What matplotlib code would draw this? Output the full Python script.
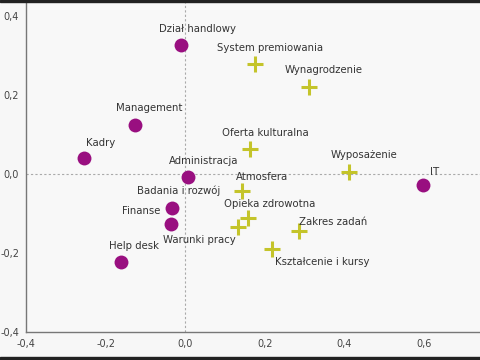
import matplotlib
matplotlib.use("Agg")
import matplotlib.pyplot as plt
from matplotlib.patches import Rectangle
from matplotlib.ticker import FuncFormatter

# dzialy (kolka)
dzialy = ["Dział handlowy", "Management", "Kadry", "Administracja",
          "Badania i rozwój", "Finanse", "Help desk", "IT"]
dzialy_x = [-0.010, -0.127, -0.253, 0.007, -0.033, -0.035, -0.162, 0.597]
dzialy_y = [0.327, 0.124, 0.040, -0.008, -0.086, -0.127, -0.223, -0.028]

# czynniki (krzyzyki)
czynniki = ["System premiowania", "Wynagrodzenie", "Oferta kulturalna",
            "Wyposażenie", "Atmosfera", "Opieka zdrowotna", "Warunki pracy",
            "Zakres zadań", "Kształcenie i kursy"]
czynniki_x = [0.175, 0.311, 0.162, 0.413, 0.142, 0.157, 0.132, 0.286, 0.218]
czynniki_y = [0.278, 0.220, 0.063, 0.005, -0.043, -0.111, -0.134, -0.144, -0.190]

ticks = [-0.4, -0.2, 0.0, 0.2, 0.4, 0.6]

# przesuniecia etykiet w pikselach
off_dzialy = [(16, 16), (15, 17), (16, 15), (16, 16), (7, 17), (-30, 13), (13, 16), (12, 13)]
off_czynniki = [(15, 16), (15, 17), (16, 16), (15, 17), (20, 14), (22, 14),
                (-38, -13), (34, 9), (50, -13)]

fig = plt.figure(figsize=(4.8, 3.6), dpi=100)
fig.patch.set_facecolor("#f7f7f7")
ax = fig.add_axes([26 / 480, 28 / 360, 1 - 26 / 480, 1 - 28 / 360])
ax.set_facecolor("#f8f8f8")

ax.axhline(0, color="#aaaaaa", ls=(0, (2, 2)), lw=0.8, zorder=1)
ax.axvline(0, color="#aaaaaa", ls=(0, (2, 2)), lw=0.8, zorder=1)

ax.scatter(dzialy_x, dzialy_y, s=100, color="#990f80", zorder=3, linewidths=0)
ax.scatter(czynniki_x, czynniki_y, s=120, marker="+", color="#c4c42a",
           linewidths=2.2, zorder=3)

for name, x, y, off in zip(dzialy, dzialy_x, dzialy_y, off_dzialy):
    ax.annotate(name, (x, y), xytext=off, textcoords="offset pixels",
                ha="center", va="center", fontsize=7.3, color="#333333")
for name, x, y, off in zip(czynniki, czynniki_x, czynniki_y, off_czynniki):
    ax.annotate(name, (x, y), xytext=off, textcoords="offset pixels",
                ha="center", va="center", fontsize=7.3, color="#333333")

ax.set_xlim(-0.4, 0.741)
ax.set_ylim(-0.4, 0.44)
ax.set_xticks(ticks)
ax.set_yticks(ticks[:-1])
fmt = FuncFormatter(lambda v, p: f"{v:.1f}".replace(".", ",").replace("-0,0", "0,0"))
ax.xaxis.set_major_formatter(fmt)
ax.yaxis.set_major_formatter(fmt)
ax.tick_params(length=0, labelsize=7, labelcolor="#444444", pad=5)
for s in ["top", "right"]:
    ax.spines[s].set_visible(False)
for s in ["left", "bottom"]:
    ax.spines[s].set_color("#777777")
    ax.spines[s].set_linewidth(1.0)

# ciemne pasy na gorze i dole
fig.patches.append(Rectangle((0, 0), 1, 3 / 360, transform=fig.transFigure,
                             color="#222222", zorder=10))
fig.patches.append(Rectangle((0, 1 - 2 / 360), 1, 2 / 360, transform=fig.transFigure,
                             color="#222222", zorder=10))

fig.savefig("out.png", dpi=100)
